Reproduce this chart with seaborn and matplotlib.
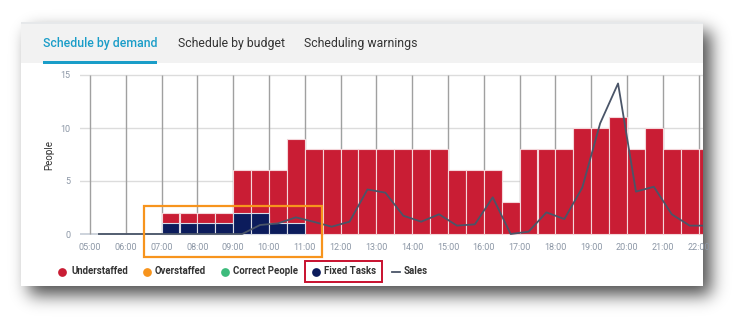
import numpy as np
import pandas as pd
import matplotlib
matplotlib.use("Agg")
import matplotlib.pyplot as plt
import seaborn as sns
from matplotlib.patches import Rectangle
from matplotlib.lines import Line2D

# ---------------- data ----------------
slots = ["05:00", "05:30", "06:00", "06:30", "07:00", "07:30", "08:00", "08:30",
         "09:00", "09:30", "10:00", "10:30", "11:00", "11:30", "12:00", "12:30",
         "13:00", "13:30", "14:00", "14:30", "15:00", "15:30", "16:00", "16:30",
         "17:00", "17:30", "18:00", "18:30", "19:00", "19:30", "20:00", "20:30",
         "21:00", "21:30", "22:00"]
total_people = [0, 0, 0, 0, 2, 2, 2, 2,
                6, 6, 6, 9, 8, 8, 8, 8,
                8, 8, 8, 8, 6, 6, 6, 3,
                8, 8, 8, 10, 10, 11, 8, 10,
                8, 8, 8]
fixed_tasks = [0, 0, 0, 0, 1, 1, 1, 1,
               2, 2, 1, 1, 0, 0, 0, 0,
               0, 0, 0, 0, 0, 0, 0, 0,
               0, 0, 0, 0, 0, 0, 0, 0,
               0, 0, 0]
sales = [0, 0, 0, 0, 0, 0, 0, 0,
         0, 0.85, 1.0, 1.57, 1.15, 0.69, 1.16, 4.2,
         3.9, 1.73, 1.16, 1.86, 0.79, 0.91, 3.46, 0.0,
         0.22, 2.04, 1.41, 4.37, 10.44, 14.2, 4.0, 4.46,
         1.86, 0.79, 0.79]
hour_labels = ["05:00", "06:00", "07:00", "08:00", "09:00", "10:00", "11:00",
               "12:00", "13:00", "14:00", "15:00", "16:00", "17:00", "18:00",
               "19:00", "20:00", "21:00", "22:00"]
y_ticks = [0, 5, 10, 15]
tabs = ["Schedule by demand", "Schedule by budget", "Scheduling warnings"]
legend_labels = ["Understaffed", "Overstaffed", "Correct People", "Fixed Tasks", "Sales"]

RED = "#c91d34"
NAVY = "#0c1c5c"
ORANGE = "#f7941d"
GREEN = "#3dbb7c"
LINE = "#4a5568"
BLUE = "#1a9dc8"
TICK = "#8c97a6"

def to_hours(s):
    h, m = s.split(":")
    return int(h) + int(m) / 60.0

df = pd.DataFrame({
    "slot": slots,
    "center": [to_hours(s) + 0.25 for s in slots],
    "total": total_people,
    "fixed": fixed_tasks,
    "sales": sales,
})
hours = [to_hours(s) for s in hour_labels]

W, H = 745, 329
plt.rcParams["font.family"] = ["Roboto", "DejaVu Sans"]
fig = plt.figure(figsize=(W / 100, H / 100), dpi=100)
fig.patch.set_facecolor("white")

# ---------------- background: panel + shadow ----------------
bg = fig.add_axes([0, 0, 1, 1], zorder=-10)
bg.set_xlim(0, W)
bg.set_ylim(H, 0)
bg.axis("off")

px0, py0, px1, py1 = 21, 22, 703, 286
mask = np.zeros((H, W))
ox, oy = 8, 9
mask[py0 + oy:py1 + oy, px0 + ox:px1 + ox] = 1.0
sig = 8.5
k = np.arange(-32, 33)
kern = np.exp(-0.5 * (k / sig) ** 2)
kern /= kern.sum()
blur = np.apply_along_axis(lambda r: np.convolve(r, kern, mode="same"), 1, mask)
blur = np.apply_along_axis(lambda c: np.convolve(c, kern, mode="same"), 0, blur)
rgba = np.zeros((H, W, 4))
rgba[..., 3] = blur * 0.7
bg.imshow(rgba, extent=[0, W, H, 0], aspect="auto", interpolation="bilinear")
bg.add_patch(Rectangle((px0, py0), px1 - px0, py1 - py0, facecolor="white",
                       edgecolor="none"))
bg.add_patch(Rectangle((px0, py0), px1 - px0, 41, facecolor="#f2f2f2",
                       edgecolor="none"))
bg.add_patch(Rectangle((px0, py0), px1 - px0, 2, facecolor="#e6e8ea",
                       edgecolor="none"))
bg.set_xlim(0, W)
bg.set_ylim(H, 0)

# ---------------- main chart ----------------
xl, xr = 80, 703
y0px, y15px = 234, 75
ppu = (y0px - y15px) / 15.0
ylo, yhi = -0.15, 15.15
top_px = y15px - (yhi - 15) * ppu
bot_px = y0px + (0 - ylo) * ppu
ax = fig.add_axes([xl / W, 1 - bot_px / H, (xr - xl) / W, (bot_px - top_px) / H],
                  zorder=0)
ax.set_facecolor("none")

# grid
for yv in y_ticks:
    ax.axhline(yv, color="#dcdcdc" if yv else "#c9d0d9", lw=1.0 if yv else 1.3,
               zorder=0.5)
ax.vlines(hours, 0, 15, color="#a0a0a0", lw=1.0, zorder=0.6)

bars = df[df["total"] > 0]
sns.barplot(data=bars, x="center", y="total", native_scale=True, width=1.0,
            color=RED, saturation=1, edgecolor="#f4d6da", linewidth=0.8,
            errorbar=None, ax=ax, zorder=2)
fx = df[df["fixed"] > 0]
sns.barplot(data=fx, x="center", y="fixed", native_scale=True, width=1.0,
            color=NAVY, saturation=1, edgecolor="#d8dce6", linewidth=0.8,
            errorbar=None, ax=ax, zorder=3)
sns.lineplot(data=df, x="center", y="sales", color=LINE, lw=1.3, ax=ax, zorder=4)

xmin = 5 - (90 - xl) / 35.8
xmax = xmin + (xr - xl) / 35.8
ax.set_xlim(xmin, xmax)
ax.set_ylim(ylo, yhi)
ax.set_xticks(hours)
ax.set_xticklabels(hour_labels)
ax.set_yticks(y_ticks)
ax.set_yticklabels([str(v) for v in y_ticks])
ax.tick_params(axis="both", length=0, labelsize=6.5, labelcolor=TICK)
ax.tick_params(axis="x", pad=5)
ax.tick_params(axis="y", pad=7)
ax.set_xlabel("")
ax.set_ylabel("People", fontsize=7, color="#333333", labelpad=4)
for s in ax.spines.values():
    s.set_visible(False)

# ---------------- overlay: tabs, legend, annotations ----------------
ov = fig.add_axes([0, 0, 1, 1], zorder=10)
ov.set_xlim(0, W)
ov.set_ylim(H, 0)
ov.axis("off")
ov.patch.set_alpha(0)

tab_x = [43, 178, 304]
for i, (t, x) in enumerate(zip(tabs, tab_x)):
    ov.text(x, 43, t, fontsize=8.8, ha="left", va="center",
            color=BLUE if i == 0 else "#333333",
            fontweight="medium" if i == 0 else "normal")
ov.add_patch(Rectangle((43, 61), 114, 3, facecolor=BLUE, edgecolor="none"))

# orange annotation box
ov.add_patch(Rectangle((144, 206), 178, 51, facecolor="none", edgecolor=ORANGE,
                       lw=1.6))

# legend
leg_y = 271.5
leg_colors = [RED, ORANGE, GREEN, NAVY]
dot_x = [62.3, 146.7, 225.0, 315.7]
txt_x = [71.7, 155.0, 233.3, 324.3]
for lab, c, dx, tx in zip(legend_labels[:4], leg_colors, dot_x, txt_x):
    ov.add_line(Line2D([dx], [leg_y], marker="o", markersize=6.3, color=c,
                       markeredgewidth=0))
    ov.text(tx, leg_y, lab, fontsize=6.9, fontweight="bold", color="#333333",
            ha="left", va="center")
ov.add_line(Line2D([391.5, 400], [leg_y, leg_y], color=LINE, lw=1.3))
ov.text(403.5, leg_y, legend_labels[4], fontsize=6.9, fontweight="bold",
        color="#333333", ha="left", va="center")
ov.add_patch(Rectangle((305.3, 260.7), 76.4, 21.6, facecolor="none",
                       edgecolor="#c8102e", lw=1.4))

fig.savefig("out.png", dpi=100, facecolor="white")
